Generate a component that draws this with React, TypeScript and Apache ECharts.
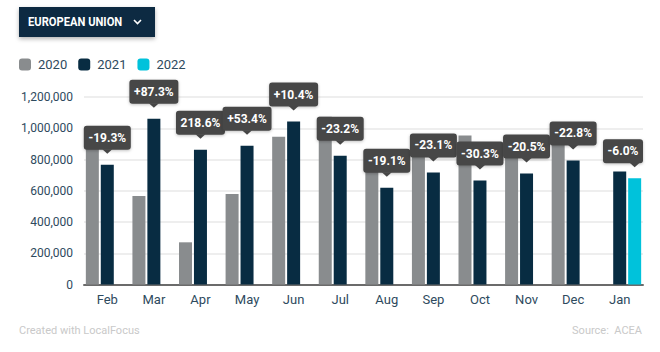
import React, { useEffect, useRef } from "react";
import * as echarts from "echarts";

const months = ["Feb", "Mar", "Apr", "May", "Jun", "Jul", "Aug", "Sep", "Oct", "Nov", "Dec", "Jan"];
const v2020 = [949000, 566000, 270000, 580000, 945000, 1073000, 767000, 932000, 954000, 893000, 1028000, null];
const v2021 = [766000, 1061000, 862000, 888000, 1043000, 824000, 620000, 717000, 665000, 710000, 794000, 723000];
const v2022 = [null, null, null, null, null, null, null, null, null, null, null, 680000];
const changes = ["-19.3%", "+87.3%", "218.6%", "+53.4%", "+10.4%", "-23.2%", "-19.1%", "-23.1%", "-30.3%", "-20.5%", "-22.8%", "-6.0%"];
const yTicks = { min: 0, max: 1200000, interval: 200000 };

const C2020 = "#898c8e";
const C2021 = "#082c42";
const C2022 = "#00c2db";
const TEXT = "#2e4a5e";
const BAR_W = 13;
const BAR_GAP = 0.15;

let measureCtx: CanvasRenderingContext2D | null = null;
function measure(t: string, font: string) {
  if (!measureCtx) measureCtx = document.createElement("canvas").getContext("2d");
  if (!measureCtx) return t.length * 6.5;
  measureCtx.font = font;
  return measureCtx.measureText(t).width;
}

export default function App() {
  const ref = useRef<HTMLDivElement>(null);
  useEffect(() => {
    document.body.style.margin = "0";
    const chart = echarts.init(ref.current!, null, { renderer: "svg" });
    const labelData = months.map((_, i) =>
      v2022[i] != null ? [i, v2022[i], 2] : [i, v2021[i], 1]
    );
    const step = BAR_W * (1 + BAR_GAP);
    const font = "bold 12px Roboto";
    chart.setOption({
      animation: false,
      textStyle: { fontFamily: "Roboto" },
      grid: { left: 84, right: 17, top: 97, bottom: 67.5 },
      legend: {
        left: 19,
        top: 58,
        padding: 0,
        itemWidth: 12,
        itemHeight: 12,
        itemGap: 11,
        icon: "roundRect",
        textStyle: { color: TEXT, fontSize: 13, fontFamily: "Roboto", padding: [0, 0, 0, 2] },
        data: ["2020", "2021", "2022"],
      },
      xAxis: {
        type: "category",
        data: months,
        axisTick: { show: false },
        axisLine: { lineStyle: { color: "#6b6b6b", width: 2 } },
        axisLabel: { color: TEXT, fontSize: 13, margin: 8, fontFamily: "Roboto" },
      },
      yAxis: {
        type: "value",
        min: yTicks.min,
        max: yTicks.max,
        interval: yTicks.interval,
        axisLabel: {
          color: TEXT,
          fontSize: 12,
          margin: 11,
          fontFamily: "Roboto",
          formatter: (v: number) => v.toLocaleString("en-US"),
        },
        splitLine: { lineStyle: { color: "#eeeeee", width: 2 } },
      },
      series: [
        { name: "2020", type: "bar", data: v2020, barWidth: BAR_W, barGap: BAR_GAP * 100 + "%", itemStyle: { color: C2020 } },
        { name: "2021", type: "bar", data: v2021, barWidth: BAR_W, barGap: BAR_GAP * 100 + "%", itemStyle: { color: C2021 } },
        { name: "2022", type: "bar", data: v2022, barWidth: BAR_W, barGap: BAR_GAP * 100 + "%", itemStyle: { color: C2022 } },
        {
          type: "custom",
          data: labelData,
          z: 10,
          clip: false,
          silent: true,
          encode: { x: 0, y: 1 },
          renderItem: (params: any, api: any) => {
            const idx = api.value(0);
            const val = api.value(1);
            const bi = api.value(2);
            const p = api.coord([idx, val]);
            const cx = p[0] + (bi - 1) * step;
            const text = changes[params.dataIndex];
            const w = Math.round(measure(text, font) + 9);
            const h = 24;
            const cs = params.coordSys;
            let bx = cx - w / 2;
            if (bx + w > cs.x + cs.width) bx = cs.x + cs.width - w;
            const tipY = p[1] - 11;
            const boxBottom = tipY - 4;
            return {
              type: "group",
              children: [
                {
                  type: "rect",
                  shape: { x: bx, y: boxBottom - h, width: w, height: h, r: 3 },
                  style: { fill: "#464646", shadowBlur: 3, shadowColor: "rgba(0,0,0,0.25)", shadowOffsetY: 1 },
                },
                {
                  type: "polygon",
                  shape: { points: [[cx - 5, boxBottom - 0.5], [cx + 5, boxBottom - 0.5], [cx, tipY]] },
                  style: { fill: "#464646" },
                },
                {
                  type: "text",
                  x: bx + w / 2,
                  y: boxBottom - h / 2,
                  style: { text, fill: "#ffffff", font, align: "center", verticalAlign: "middle" },
                },
              ],
            };
          },
        },
      ],
      graphic: [
        {
          type: "rect",
          shape: { x: 19, y: 7, width: 136, height: 30 },
          style: { fill: "#082c42", shadowBlur: 4, shadowColor: "rgba(0,0,0,0.3)", shadowOffsetY: 2 },
        },
        {
          type: "text",
          x: 28,
          y: 22,
          scaleX: 0.86,
          style: { text: "EUROPEAN UNION", fill: "#ffffff", font: "bold 13px Roboto", verticalAlign: "middle" },
        },
        {
          type: "polyline",
          shape: { points: [[134, 20], [137.5, 23.5], [141, 20]] },
          style: { stroke: "#ffffff", lineWidth: 1.6, fill: "none" },
        },
        {
          type: "text",
          x: 19,
          y: 330,
          style: { text: "Created with LocalFocus", fill: "#c9c9c9", font: "11px Roboto", verticalAlign: "middle" },
        },
        {
          type: "text",
          x: 642,
          y: 330,
          style: { text: "Source:  ACEA", fill: "#c9c9c9", font: "11px Roboto", align: "right", verticalAlign: "middle" },
        },
      ],
    });
    return () => chart.dispose();
  }, []);
  return <div ref={ref} style={{ width: 660, height: 352 }} />;
}
